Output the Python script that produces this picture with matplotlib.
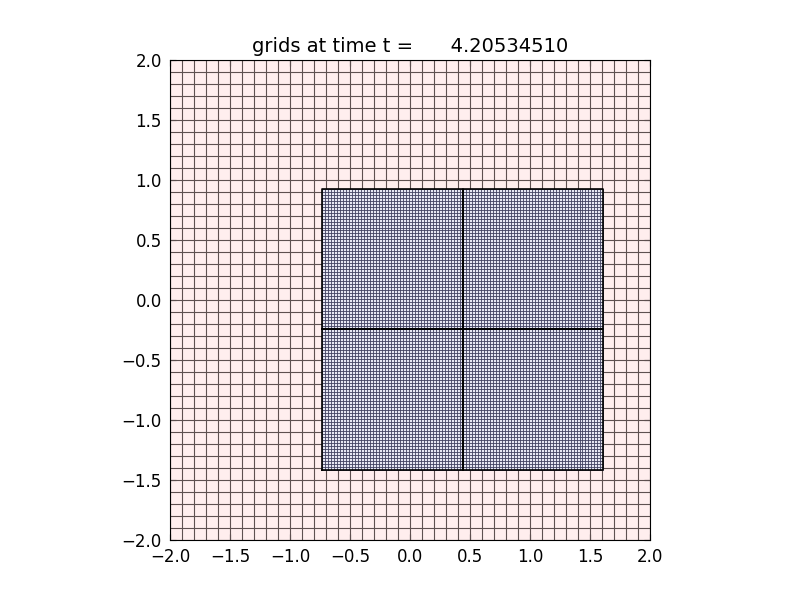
import numpy as np
import matplotlib
matplotlib.use("Agg")
import matplotlib.pyplot as plt

# coarse level grid
coarse_x = [-2.0, 2.0]
coarse_y = [-2.0, 2.0]
coarse_n = 40

# fine level patches (xlo, xhi, ylo, yhi), refinement 4
patch_xlo = [-0.735, 0.440, -0.735, 0.440]
patch_xhi = [0.440, 1.612, 0.440, 1.612]
patch_ylo = [-1.413, -1.413, -0.243, -0.243]
patch_yhi = [-0.243, -0.243, 0.928, 0.928]
fine_n = 47

t = 4.20534510

plt.rcParams['font.size'] = 12
plt.rcParams['xtick.direction'] = 'in'
plt.rcParams['ytick.direction'] = 'in'
plt.rcParams['xtick.top'] = True
plt.rcParams['ytick.right'] = True
plt.rcParams['xtick.major.size'] = 4
plt.rcParams['ytick.major.size'] = 4
plt.rcParams['xtick.major.pad'] = 6
plt.rcParams['ytick.major.pad'] = 6

fig = plt.figure(figsize=(8, 6), dpi=100)
ax = fig.add_axes([0.125, 0.1, 0.775, 0.8])

# coarse grid
xe = np.linspace(coarse_x[0], coarse_x[1], coarse_n + 1)
ye = np.linspace(coarse_y[0], coarse_y[1], coarse_n + 1)
ax.fill_between(coarse_x, coarse_y[0], coarse_y[1], color='#ffeeee', linewidth=0)
ax.vlines(xe, coarse_y[0], coarse_y[1], color='#5e5050', linewidth=0.8)
ax.hlines(ye, coarse_x[0], coarse_x[1], color='#5e5050', linewidth=0.8)

# fine patches
for x0, x1, y0, y1 in zip(patch_xlo, patch_xhi, patch_ylo, patch_yhi):
    fx = np.linspace(x0, x1, fine_n + 1)
    fy = np.linspace(y0, y1, fine_n + 1)
    ax.fill_between([x0, x1], y0, y1, color='#e6e6f2', linewidth=0, zorder=3)
    ax.vlines(fx, y0, y1, color='#404060', linewidth=0.6, zorder=3)
    ax.hlines(fy, x0, x1, color='#404060', linewidth=0.6, zorder=3)
    ax.plot([x0, x1, x1, x0, x0], [y0, y0, y1, y1, y0], color='k', linewidth=1.2, zorder=4)

ax.set_xlim(-2, 2)
ax.set_ylim(-2, 2)
ax.set_aspect('equal')
ax.set_xticks(np.arange(-2, 2.01, 0.5))
ax.set_yticks(np.arange(-2, 2.01, 0.5))
ax.set_title("grids at time t = %15.8f" % t, fontsize=14)

fig.savefig("out.png", dpi=100)
